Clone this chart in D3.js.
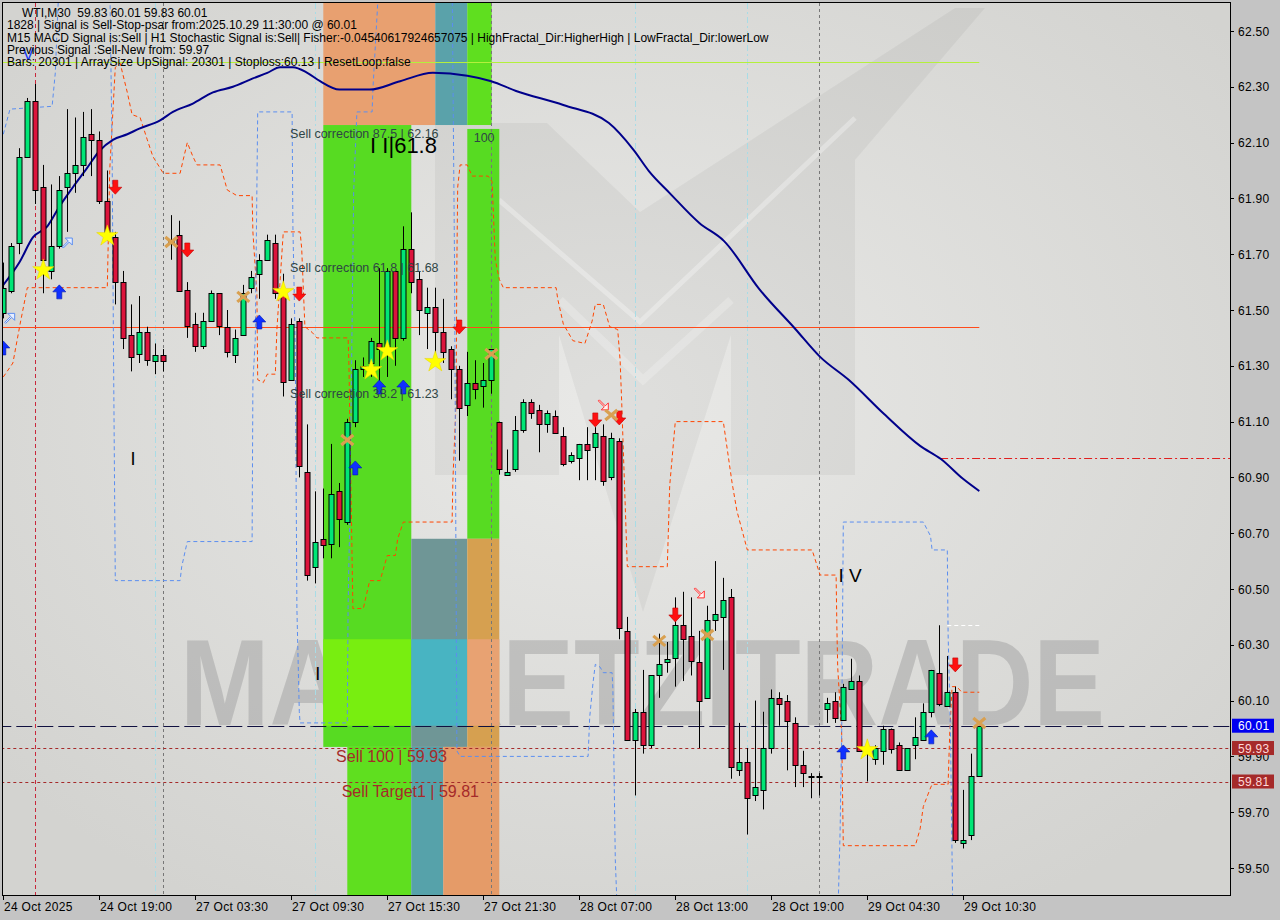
<!DOCTYPE html>
<html><head><meta charset="utf-8">
<script src="https://cdn.jsdelivr.net/npm/d3@7"></script>
<style>body{margin:0;background:#c4c4c4;} svg{display:block}</style>
</head><body>
<svg id="chart" width="1280" height="920"></svg>
<script>
// ---------------- DATA ----------------
const tickBars   = [0,12,24,36,48,60,72,84,96,108,120];
const tickLabels = ["24 Oct 2025","24 Oct 19:00","27 Oct 03:30","27 Oct 09:30","27 Oct 15:30","27 Oct 21:30","28 Oct 07:00","28 Oct 13:00","28 Oct 19:00","29 Oct 04:30","29 Oct 10:30"];
const priceTicks = [62.50,62.30,62.10,61.90,61.70,61.50,61.30,61.10,60.90,60.70,60.50,60.30,60.10,59.90,59.70,59.50];

const opens  = [61.49,61.57,61.74,62.05,62.25,61.94,61.64,61.73,61.94,61.99,62.02,62.13,62.11,61.89,61.76,61.60,61.41,61.34,61.42,61.32,
  61.34,61.75,61.77,61.57,61.45,61.37,61.46,61.56,61.44,61.34,61.41,61.58,61.63,61.68,61.74,61.56,61.25,61.46,60.92,60.58,
  60.68,60.66,60.85,60.74,61.10,61.29,61.31,61.38,61.37,61.64,61.40,61.72,61.61,61.49,61.51,61.42,61.36,61.29,61.16,61.24,
  61.23,61.25,61.10,60.91,60.93,61.07,61.17,61.14,61.09,61.12,61.05,60.96,60.97,61.02,61.01,61.05,60.90,61.03,60.35,59.96,
  60.06,59.94,60.19,60.24,60.25,60.37,60.33,60.24,60.11,60.39,60.40,60.47,59.85,59.88,59.76,59.78,59.93,60.11,60.10,60.02,
  59.87,59.83,59.83,60.07,60.10,60.03,60.14,60.17,59.92,59.89,59.92,60.00,59.94,59.85,59.94,59.96,60.06,60.20,60.08,60.13,
  59.59,59.62,59.83];
const highs  = [61.67,61.74,62.08,62.26,62.31,62.02,61.95,61.98,62.22,62.19,62.21,62.22,62.14,62.00,61.78,61.64,61.52,61.55,61.44,61.38,
  61.36,61.84,61.82,61.60,61.49,61.49,61.57,61.56,61.50,61.43,61.59,61.64,61.70,61.77,61.77,61.63,61.47,61.47,61.09,60.85,
  60.86,61.02,60.88,61.11,61.32,61.33,61.40,61.65,61.65,61.64,61.80,61.85,61.64,61.58,61.58,61.54,61.37,61.30,61.35,61.32,
  61.31,61.36,61.10,61.00,61.12,61.18,61.18,61.16,61.14,61.14,61.08,60.99,61.02,61.08,61.08,61.09,61.06,61.04,60.40,60.07,
  60.21,60.19,60.34,60.31,60.47,60.49,60.47,60.35,60.44,60.60,60.54,60.50,60.02,59.93,60.10,60.06,60.14,60.13,60.12,60.04,
  59.92,59.84,59.84,60.11,60.13,60.16,60.25,60.19,59.94,59.94,60.01,60.00,59.95,59.93,60.04,60.09,60.21,60.37,60.26,60.15,
  59.78,59.91,60.01];
const lows   = [61.47,61.56,61.70,62.05,61.88,61.56,61.61,61.72,61.78,61.92,61.98,61.98,61.88,61.75,61.52,61.36,61.28,61.31,61.30,61.27,
  61.28,61.68,61.57,61.40,61.35,61.36,61.46,61.41,61.33,61.31,61.41,61.56,61.54,61.68,61.54,61.19,61.25,60.90,60.53,60.52,
  60.61,60.61,60.65,60.73,61.08,61.26,61.26,61.21,61.26,61.30,61.39,61.56,61.41,61.36,61.31,61.31,61.18,60.96,61.12,61.18,
  61.15,61.20,60.91,60.91,60.92,61.06,61.11,60.99,61.06,61.06,60.94,60.95,60.89,60.89,60.89,60.87,60.89,60.32,59.96,59.76,
  59.91,59.93,60.11,60.20,60.15,60.17,60.19,59.93,60.11,60.35,60.21,59.82,59.83,59.62,59.74,59.71,59.91,60.01,59.85,59.79,
  59.79,59.75,59.76,60.02,60.02,60.03,60.14,59.92,59.81,59.87,59.87,59.91,59.85,59.85,59.89,59.96,60.04,60.08,60.08,59.59,
  59.57,59.60,59.83];
const closes = [61.58,61.73,62.05,62.25,61.93,61.68,61.73,61.93,61.99,62.02,62.12,62.11,61.89,61.78,61.60,61.40,61.33,61.42,61.32,61.34,
  61.32,61.74,61.57,61.44,61.37,61.46,61.56,61.44,61.35,61.40,61.56,61.62,61.68,61.75,61.56,61.24,61.45,60.94,60.55,60.67,
  60.66,60.84,60.75,61.10,61.29,61.30,61.39,61.36,61.64,61.40,61.72,61.60,61.50,61.51,61.42,61.35,61.29,61.15,61.24,61.22,
  61.25,61.36,60.93,60.92,61.07,61.17,61.13,61.09,61.13,61.06,60.95,60.98,61.02,61.00,61.06,60.89,61.04,60.36,59.96,60.06,
  59.94,60.19,60.23,60.25,60.37,60.32,60.24,60.10,60.39,60.41,60.46,59.86,59.88,59.75,59.79,59.93,60.11,60.09,60.03,59.87,
  59.84,59.83,59.83,60.09,60.04,60.15,60.17,59.92,59.93,59.93,60.00,59.93,59.85,59.93,59.97,60.06,60.21,60.09,60.13,59.60,
  59.60,59.83,60.01];

// moving average (bar index, price)
const maIdx = [0,2,3.7,5.5,7,8.7,10.5,12,13.7,15.5,17,19.6,21.2,23.7,26.2,28.7,31.2,33,34.6,36.2,38,39.6,42,45.8,49.6,53.7,58,61,64.1,70,75.7,78.8,80.7,83.3,87,90.1,94.5,99,102.1,105.7,110.1,114.6,117.2,120,122];
const maVal = [61.59,61.67,61.76,61.80,61.87,61.94,62.01,62.07,62.11,62.13,62.15,62.18,62.21,62.24,62.28,62.30,62.33,62.35,62.37,62.37,62.35,62.32,62.29,62.29,62.32,62.35,62.34,62.32,62.285,62.235,62.17,62.073,61.998,61.919,61.812,61.747,61.575,61.432,61.332,61.249,61.127,61.013,60.966,60.894,60.851];

// upper (orange) stop line
const upIdx = [0,1.2,2.1,3,13,13.3,14,14.6,15.5,16.1,17.1,18,18.7,20,22.1,22.5,23,23.7,24.2,27.1,28,29.2,31.1,31.2,31.7,31.8,32.5,33,34,34.2,35,37.1,37.3,37.7,38.6,39.2,43.1,43.2,43.7,45,45.8,47.1,48,49,49.3,50,56.1,56.2,56.6,56.7,56.8,57.1,58,58.6,60.6,61.1,61.5,62,62.5,69.1,69.3,70,71.2,72.7,73.6,74,75,75.8,76.8,77.1,77.3,77.5,78,83,83.3,84,90,90.5,91.1,91.7,93,101.1,102.1,104.1,104.2,104.3,104.8,105,114,114.6,115,115.8,116.1,118.1,118.3,118.6,119.2,119.8,122];
const upVal = [61.26,61.31,61.45,61.58,61.58,62.00,62.37,62.385,62.28,62.20,62.19,62.11,62.05,61.99,61.99,62.04,62.10,62.05,62.02,62.02,61.93,61.91,61.91,61.78,61.56,61.25,61.24,61.27,61.27,61.43,61.78,61.78,61.72,61.44,61.42,61.40,61.40,61.31,60.43,60.43,60.53,60.53,60.62,60.62,60.68,60.74,60.74,60.89,61.17,61.68,61.94,62.02,62.02,61.98,61.98,61.96,61.68,61.61,61.58,61.58,61.54,61.45,61.39,61.38,61.46,61.52,61.52,61.44,61.43,61.32,61.17,61.00,60.58,60.58,60.87,61.10,61.10,61.00,60.88,60.78,60.64,60.64,60.55,60.55,60.36,60.22,59.98,59.58,59.58,59.64,59.72,59.78,59.80,59.80,59.98,60.15,60.15,60.13,60.13];

// lower (blue) stop line
const loIdx = [0,0.84,6.1,6.5,7,13.3,13.6,13.8,14,22.1,22.3,23,31.1,31.2,31.5,31.8,36.1,36.2,36.5,36.7,37,37.1,43,43.1,43.3,43.8,44.2,46.1,46.2,47,56.1,56.4,56.7,57.1,73.1,73.3,73.7,74,74.6,75,76.1,76.2,76.5,76.8,104.3,104.6,104.8,105,115,115.9,116.1,118,118.1,118.4,118.6,118.7];
const loVal = [62.13,62.22,62.23,62.35,62.70,62.70,62.07,61.26,60.53,60.53,60.58,60.67,60.67,61.24,61.40,62.21,62.21,61.80,61.36,60.43,60.06,60.02,60.02,60.44,60.74,61.93,62.21,62.21,62.29,62.70,62.70,61.68,59.92,59.90,59.90,60.04,60.16,60.23,60.22,60.20,60.20,60.14,59.53,59.30,59.30,59.63,59.98,60.74,60.74,60.69,60.64,60.64,60.34,59.98,59.53,59.30];

// signal markers [bar, price]
const sellArrows   = [[14,61.94],[23,61.715],[37,61.557],[57,61.439],[74,61.106],[77,61.113],[84,60.407],[119,60.228]];
const buyArrows    = [[0,61.364],[7,61.565],[32,61.457],[44,60.934],[47,61.224],[50,61.224],[105,59.916],[116,59.97]];
const hollowBuy    = [[0.8,61.47],[8,61.74]];
const hollowSell   = [[75,61.16],[87,60.486]];
const starMarks    = [[5,61.643],[13,61.765],[35,61.565],[46,61.285],[48,61.353],[54,61.314],[108,59.923]];
const crossMarks   = [[21,61.744],[30,61.547],[43,61.034],[61,61.342],[76,61.124],[82,60.314],[88,60.335],[122,60.02]];

// levels
const levelPrices = [62.39, 61.44, 60.01, 59.93, 59.81, 60.97, 60.37];
const vlineBars   = [4,19,20,39,61,79,93,102];

// zones [barFrom, barTo] and [priceTop, priceBottom]
const zoneBars   = [[40,54],[54,58],[58,61.05],[40,51],[58,62],[51,58],[58,62],[43,51],[51,55],[55,62],[40,51],[51,58],[58,62]];
const zonePrices = [[62.62,62.163],[62.62,62.163],[62.62,62.163],[62.163,59.934],[62.149,60.68],[60.68,59.934],[60.68,59.934],[59.934,59.30],[59.934,59.30],[59.934,59.30],[60.32,60.01],[60.32,60.01],[60.32,60.01]];

const headerLines = [
  "WTI,M30  59.83 60.01 59.83 60.01",
  "1828 | Signal is Sell-Stop-psar from:2025.10.29 11:30:00 @ 60.01",
  "M15 MACD Signal is:Sell | H1 Stochastic Signal is:Sell| Fisher:-0.04540617924657075 | HighFractal_Dir:HigherHigh | LowFractal_Dir:lowerLow",
  "Previous Signal :Sell-New from: 59.97",
  "Bars: 20301 | ArraySize UpSignal: 20301 | Stoploss:60.13 | ResetLoop:false"
];
const priceTags = [60.01, 59.93, 59.81];

// ---------------- DRAW ----------------
const svg = d3.select("#chart");
const L = 3, T = 3, R = 1230, B = 895;
const x = d3.scaleLinear().domain([0,122]).range([3.3, 979.3]);
const y = d3.scaleLinear().domain([59.5, 62.5]).range([868, 31]);

const defs = svg.append("defs");
const rg = defs.append("radialGradient").attr("id","bg").attr("cx","50%").attr("cy","45%").attr("r","65%");
rg.append("stop").attr("offset","0%").attr("stop-color","#e9e9e7");
rg.append("stop").attr("offset","100%").attr("stop-color","#d3d3d0");
defs.append("clipPath").attr("id","plot").append("rect").attr("x",L).attr("y",T).attr("width",R-L).attr("height",B-T);

svg.append("rect").attr("width",1280).attr("height",920).attr("fill","#c4c4c4");
svg.append("rect").attr("x",L).attr("y",T).attr("width",R-L).attr("height",B-T).attr("fill","url(#bg)");

const g = svg.append("g").attr("clip-path","url(#plot)");

// watermark logo (decorative)
const wm = g.append("g");
wm.append("path").attr("d","M435,123 L547,123 L640,212 L955,8 L985,8 L855,160 L855,475 L731,475 L731,335 L643,612 L559,335 L559,475 L435,475 Z")
  .attr("fill","#000").attr("opacity",0.045);
wm.append("path").attr("d","M499,200 L640,322 L855,118").attr("fill","none").attr("stroke","#fff").attr("stroke-width",5).attr("opacity",0.3);
wm.append("path").attr("d","M560,300 L643,380 L731,300").attr("fill","none").attr("stroke","#fff").attr("stroke-width",8).attr("opacity",0.22);
wm.append("text").attr("x",180).attr("y",725).attr("font-family","Liberation Sans, Arial").attr("font-weight","bold")
  .attr("font-size",122).attr("textLength",925).attr("lengthAdjust","spacingAndGlyphs")
  .attr("fill","#a6a6a6").attr("opacity",0.55).text("MARKETZITRADE");

// zones
const zoneColors = ["#e8a070","#5aa2aa","#5fdf1f","#57db22","#57db22","#6f9696","#d6a050","#5fdf1f","#56a2aa","#e59b68","#78ee10","#48b4c2","#e8a272"];
g.selectAll("rect.zone").data(zoneBars).join("rect").attr("class","zone")
  .attr("x",d=>x(d[0])).attr("width",d=>x(d[1])-x(d[0]))
  .attr("y",(d,i)=>y(zonePrices[i][0])).attr("height",(d,i)=>y(zonePrices[i][1])-y(zonePrices[i][0]))
  .attr("fill",(d,i)=>zoneColors[i]);

// vertical lines
const vStyles = [["#c8283c","4,3"],["#a8dce6","6,3,2,3"],["#777","3,3"],["#a8dce6","6,3,2,3"],["#777","3,3"],["#a8dce6","6,3,2,3"],["#a8dce6","6,3,2,3"],["#777","3,3"]];
g.selectAll("line.v").data(vlineBars).join("line").attr("class","v")
  .attr("x1",d=>Math.round(x(d))+0.5).attr("x2",d=>Math.round(x(d))+0.5).attr("y1",T).attr("y2",B)
  .attr("stroke",(d,i)=>vStyles[i][0]).attr("stroke-dasharray",(d,i)=>vStyles[i][1]).attr("stroke-width",1);

// horizontal levels
const hStyles = [
  {from:-1, to:122, c:"#b4f03c", dash:null},
  {from:-1, to:122, c:"#ff4a1a", dash:null},
  {from:-1, to:160, c:"#101040", dash:"16,5"},
  {from:-1, to:160, c:"#a52a2a", dash:"3,3"},
  {from:-1, to:160, c:"#a52a2a", dash:"3,3"},
  {from:117.1, to:160, c:"#e02020", dash:"8,3,2,3"},
  {from:118, to:122, c:"#ffffff", dash:"4,3"}
];
g.selectAll("line.h").data(levelPrices).join("line").attr("class","h")
  .attr("x1",(d,i)=>x(hStyles[i].from)).attr("x2",(d,i)=>x(hStyles[i].to))
  .attr("y1",d=>Math.round(y(d))+0.5).attr("y2",d=>Math.round(y(d))+0.5)
  .attr("stroke",(d,i)=>hStyles[i].c).attr("stroke-dasharray",(d,i)=>hStyles[i].dash);

// stop lines
const stepLine = d3.line().x(d=>x(d[0])).y(d=>y(d[1]));
g.append("path").attr("d",stepLine(upIdx.map((k,i)=>[k,upVal[i]]))).attr("fill","none")
  .attr("stroke","#ff4500").attr("stroke-width",1).attr("stroke-dasharray","4,3");
g.append("path").attr("d",stepLine(loIdx.map((k,i)=>[k,loVal[i]]))).attr("fill","none")
  .attr("stroke","#5b8ef0").attr("stroke-width",1).attr("stroke-dasharray","4,3");

// MA
const maLine = d3.line().x(d=>x(d[0])).y(d=>y(d[1])).curve(d3.curveMonotoneX);
g.append("path").attr("d",maLine(maIdx.map((k,i)=>[k,maVal[i]]))).attr("fill","none")
  .attr("stroke","#00008b").attr("stroke-width",2);

// candles
const bars = d3.range(opens.length).map(i=>({k:i,o:opens[i],h:highs[i],l:lows[i],c:closes[i]}));
const cg = g.append("g");
cg.selectAll("line.w").data(bars).join("line").attr("class","w")
  .attr("x1",d=>Math.round(x(d.k))+0.5).attr("x2",d=>Math.round(x(d.k))+0.5)
  .attr("y1",d=>y(d.h)).attr("y2",d=>y(d.l)).attr("stroke","#000").attr("stroke-width",1);
cg.selectAll("rect.b").data(bars).join("rect").attr("class","b")
  .attr("x",d=>Math.round(x(d.k))-2).attr("width",5)
  .attr("y",d=>Math.round(y(Math.max(d.o,d.c)))+0.5)
  .attr("height",d=>Math.max(1,Math.round(Math.abs(y(d.o)-y(d.c)))))
  .attr("fill",d=>d.c>=d.o?"#00e676":"#dc143c").attr("stroke","#000").attr("stroke-width",1);

// markers
const mg = g.append("g");
const downPath = "M-2.5,-7 L2.5,-7 L2.5,0 L6.5,0 L0,7 L-6.5,0 L-2.5,0 Z";
const upPath   = "M-2.5,7 L2.5,7 L2.5,0 L6.5,0 L0,-7 L-6.5,0 L-2.5,0 Z";
mg.selectAll("path.sa").data(sellArrows).join("path").attr("class","sa").attr("d",downPath)
  .attr("transform",d=>`translate(${x(d[0])},${y(d[1])})`).attr("fill","#ff1010").attr("stroke","#c00000").attr("stroke-width",0.6);
mg.selectAll("path.ba").data(buyArrows).join("path").attr("class","ba").attr("d",upPath)
  .attr("transform",d=>`translate(${x(d[0])},${y(d[1])})`).attr("fill","#1030ff").attr("stroke","#0018b0").attr("stroke-width",0.6);
mg.selectAll("path.hb").data(hollowBuy).join("path").attr("class","hb")
  .attr("d","M-5,4 L1,-2 L-2,-5 L5,-5 L5,2 L2,-1 L-4,5 Z")
  .attr("transform",d=>`translate(${x(d[0])},${y(d[1])})`).attr("fill","#e8eeff").attr("stroke","#5b8ef0").attr("stroke-width",1);
mg.selectAll("path.hs").data(hollowSell).join("path").attr("class","hs")
  .attr("d","M-5,-4 L1,2 L-2,5 L5,5 L5,-2 L2,1 L-4,-5 Z")
  .attr("transform",d=>`translate(${x(d[0])},${y(d[1])})`).attr("fill","#fff0f0").attr("stroke","#ff3030").attr("stroke-width",1);
const star = d3.symbol().type(d3.symbolStar).size(140);
mg.selectAll("path.st").data(starMarks).join("path").attr("class","st").attr("d",star())
  .attr("transform",d=>`translate(${x(d[0])},${y(d[1])})`).attr("fill","#ffff00").attr("stroke","#e6d200").attr("stroke-width",0.5);
mg.selectAll("path.cx").data(crossMarks).join("path").attr("class","cx")
  .attr("d","M-6,-5 L6,5 M-6,5 L6,-5")
  .attr("transform",d=>`translate(${x(d[0])},${y(d[1])})`).attr("stroke","#d9a050").attr("stroke-width",3.2).attr("fill","none");

// annotations
const ann = g.append("g").attr("font-family","Liberation Sans, Arial");
function note(k,p,dy,txt,size,color){
  ann.append("text").attr("x",x(k)).attr("y",y(p)+dy).attr("font-size",size).attr("fill",color).text(txt);
}
note(35.85,62.163,12.5,"Sell correction 87.5 | 62.16",12.5,"#2f4545");
note(35.85,61.68,12.5,"Sell correction 61.8 | 61.68",12.5,"#2f4545");
note(35.85,61.23,12.5,"Sell correction 38.2 | 61.23",12.5,"#2f4545");
note(58.8,62.163,17,"100",12.5,"#2f4545");
note(45.85,62.163,28,"I I|61.8",22,"#000");
note(41.6,59.934,15,"Sell 100 | 59.93",16,"#a52a2a");
note(42.3,59.81,15,"Sell Target1 | 59.81",16,"#a52a2a");
note(15.9,60.97,7,"I",18,"#000");
note(39.0,60.20,7,"I",18,"#000");
note(104.4,60.55,7,"I V",19,"#000");
note(2.4,62.40,1,"V",17,"#1a3cf0");

// header text
const hd = svg.append("g").attr("font-family","Liberation Sans, Arial").attr("font-size",12).attr("fill","#000");
hd.selectAll("text").data(headerLines).join("text")
  .attr("x",(d,i)=>i===0?22:7).attr("y",(d,i)=>17+i*12.3).text(d=>d).attr("xml:space","preserve");

// frame
svg.append("rect").attr("x",L-0.5).attr("y",T-0.5).attr("width",R-L+1).attr("height",B-T+1)
  .attr("fill","none").attr("stroke","#000").attr("stroke-width",1);

// y axis
const ya = svg.append("g").attr("font-family","Liberation Sans, Arial").attr("font-size",12).attr("fill","#000");
ya.selectAll("line").data(priceTicks).join("line")
  .attr("x1",R).attr("x2",R+4).attr("y1",d=>Math.round(y(d))+0.5).attr("y2",d=>Math.round(y(d))+0.5).attr("stroke","#000");
ya.selectAll("text").data(priceTicks).join("text")
  .attr("x",R+8).attr("y",d=>y(d)+4.5).attr("letter-spacing",0.3).text(d=>d.toFixed(2));

// price tags
const tagColors = ["#0000f0","#a52a2a","#a52a2a"];
const tg = svg.append("g").attr("font-family","Liberation Sans, Arial").attr("font-size",12);
tg.selectAll("rect").data(priceTags).join("rect")
  .attr("x",R+2).attr("y",d=>y(d)-7).attr("width",42).attr("height",14).attr("fill",(d,i)=>tagColors[i]);
tg.selectAll("text").data(priceTags).join("text")
  .attr("x",R+8).attr("y",d=>y(d)+4.5).attr("fill",(d,i)=>i===0?"#ffffff":"#ffd8d8").attr("letter-spacing",0.3).text(d=>d.toFixed(2));

// x axis
const xa = svg.append("g").attr("font-family","Liberation Sans, Arial").attr("font-size",12).attr("fill","#000");
xa.selectAll("line").data(tickBars).join("line")
  .attr("x1",d=>Math.round(x(d))+0.5).attr("x2",d=>Math.round(x(d))+0.5).attr("y1",B).attr("y2",B+5).attr("stroke","#000");
xa.selectAll("text").data(tickBars).join("text")
  .attr("x",d=>Math.round(x(d))+1).attr("y",B+16).attr("letter-spacing",0.3).text((d,i)=>tickLabels[i]);
</script>
</body></html>
